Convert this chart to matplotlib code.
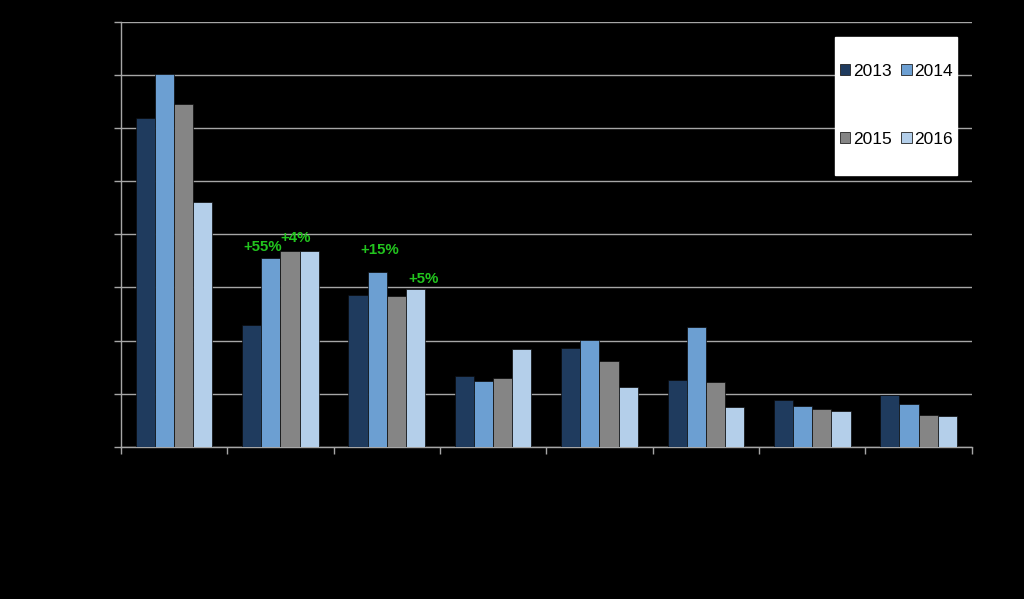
import matplotlib
matplotlib.use("Agg")
import matplotlib.pyplot as plt
from matplotlib.patches import Rectangle
import numpy as np

plt.rcParams['font.family'] = ['Liberation Sans', 'DejaVu Sans']

categories = ["A", "B", "C", "D", "E", "F", "G", "H"]
years = ["2013", "2014", "2015", "2016"]
v2013 = [6.18, 2.30, 2.86, 1.34, 1.86, 1.26, 0.89, 0.98]
v2014 = [7.02, 3.56, 3.30, 1.24, 2.02, 2.26, 0.77, 0.81]
v2015 = [6.46, 3.69, 2.84, 1.30, 1.62, 1.22, 0.72, 0.60]
v2016 = [4.61, 3.69, 2.98, 1.85, 1.13, 0.75, 0.68, 0.58]
series = [v2013, v2014, v2015, v2016]
colors = ["#1f3b5e", "#6c9fd2", "#858585", "#b4cfea"]

ann_text = ["+55%", "+4%", "+15%", "+5%"]
ann_group = [1, 1, 2, 2]
ann_series = [1, 2, 1, 3]
# style offsets (points) of the labels relative to their bar tops
ann_dx = [-6, 4, 2, 6]
ann_dy = [3, 4.5, 10.5, 1.5]

fig = plt.figure(figsize=(10.24, 5.99), dpi=100, facecolor="black")
ax = fig.add_axes([0.118, 0.2538, 0.831, 0.7100])
ax.set_facecolor("black")

x = np.arange(len(categories))
w = 0.18
bars = []
for i, (vals, c, y) in enumerate(zip(series, colors, years)):
    b = ax.bar(x + (i - 1.5) * w, vals, width=w, color=c, edgecolor="#0a0a0a",
               linewidth=0.5, label=y, zorder=3)
    bars.append(b)

for txt, gi, si, dx, dy in zip(ann_text, ann_group, ann_series, ann_dx, ann_dy):
    xpos = x[gi] + (si - 1.5) * w
    ypos = series[si][gi]
    ax.annotate(txt, (xpos, ypos), xytext=(dx, dy), textcoords="offset points",
                color="#22c41e", fontsize=10.8, fontweight="bold",
                ha="center", va="bottom", zorder=4)

ax.set_xlim(-0.5, len(categories) - 0.5)
ax.set_ylim(0, 8)
ax.set_yticks(np.arange(0, 9, 1))
ax.set_yticklabels([])
ax.set_xticks(np.arange(-0.5, len(categories), 1))
ax.set_xticklabels([])
ax.yaxis.grid(True, color="#a6a6a6", linewidth=1.0, zorder=0)
ax.set_axisbelow(True)
for s in ["top", "right"]:
    ax.spines[s].set_visible(False)
for s in ["left", "bottom"]:
    ax.spines[s].set_color("#a6a6a6")
    ax.spines[s].set_linewidth(1.0)
ax.tick_params(axis="both", colors="#a6a6a6", length=5, width=1, direction="out")

# legend box
fig.patches.append(Rectangle((835/1024, 1 - 175/599), 122/1024, 138/599,
                             transform=fig.transFigure, facecolor="white",
                             edgecolor="white", zorder=5))
order = [0, 2, 1, 3]  # row-wise fill: 2013 2014 / 2015 2016
handles = [bars[i] for i in order]
labels = [years[i] for i in order]
leg = fig.legend(handles, labels, ncol=2, loc="upper left",
                 bbox_to_anchor=(840/1024, 1 - 64/599),
                 frameon=False, fontsize=12.5, handlelength=0.6, handleheight=0.6,
                 handletextpad=0.15, columnspacing=0.55, labelspacing=3.05,
                 borderpad=0, borderaxespad=0)
leg.set_zorder(6)
for h in leg.legend_handles:
    h.set_edgecolor("#222222")
    h.set_linewidth(0.6)

fig.savefig("out.png", dpi=100, facecolor="black")
